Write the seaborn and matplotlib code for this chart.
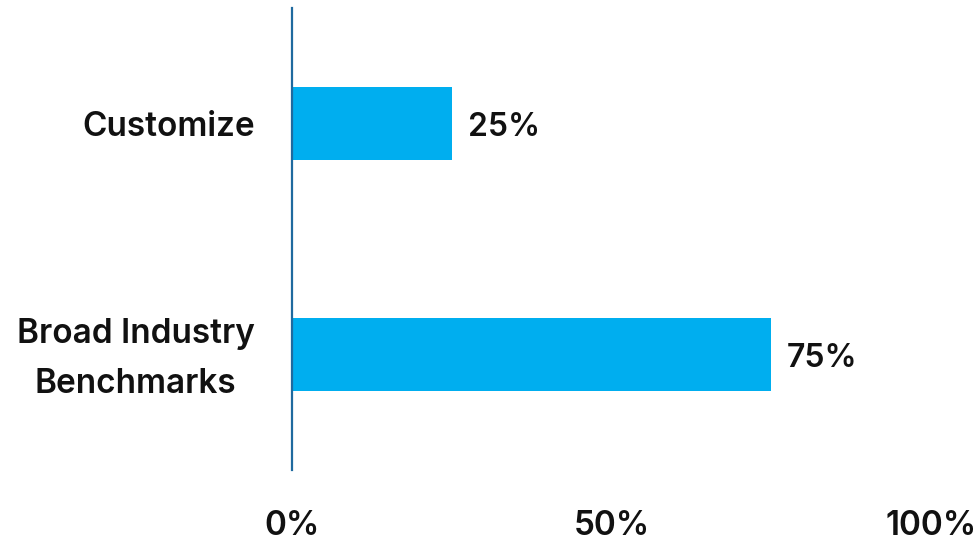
import matplotlib
matplotlib.use("Agg")
import matplotlib.pyplot as plt
import matplotlib.transforms as mtransforms
import seaborn as sns
import pandas as pd

categories = ["Customize", "Broad Industry\nBenchmarks"]
values = [25, 75]
value_labels = ["25%", "75%"]
x_ticks = [0, 50, 100]
x_tick_labels = ["0%", "50%", "100%"]

sns.set_theme(style="white")
plt.rcParams['font.family'] = ['Inter', 'DejaVu Sans']

FS = 24
W = 600
TXT = "#111111"

df = pd.DataFrame({"category": categories, "value": values})

fig = plt.figure(figsize=(9.77, 5.41), dpi=100)
ax = fig.add_axes([292/977, 1-470/541, (931-292)/977, (470-8)/541])

sns.barplot(data=df, x="value", y="category", orient="h", color="#00AEEF",
            saturation=1, width=0.316, linewidth=0, ax=ax)

val_tr = mtransforms.offset_copy(ax.transData, fig=fig, x=0, y=-4, units="dots")
for i, (v, lab) in enumerate(zip(values, value_labels)):
    ax.text(v + 2.5, i, lab, va="center", ha="left", fontsize=23,
            fontweight=W, color=TXT, transform=val_tr)

ax.set_xlim(0, 100)
ax.set_ylim(1.5, -0.5)
ax.set_xticks(x_ticks)
ax.set_xticklabels(x_tick_labels, fontsize=FS, fontweight=W, color=TXT)
ax.set_yticks(range(len(categories)))
ax.set_yticklabels(categories, fontsize=FS, fontweight=W, color=TXT,
                   multialignment="center", linespacing=1.72)
ax.tick_params(axis="x", length=0, pad=29)
ax.tick_params(axis="y", length=0, pad=27)
ax.set_xlabel("")
ax.set_ylabel("")
for s in ["top", "right", "bottom"]:
    ax.spines[s].set_visible(False)
ax.spines["left"].set_color("#1F6A9F")
ax.spines["left"].set_linewidth(1.6)
ax.spines["left"].set_zorder(5)
ax.grid(False)

# lift the two-line label so that its block is centred on the bar
lab2 = ax.get_yticklabels()[1]
lab2.set_transform(lab2.get_transform() +
                   mtransforms.ScaledTranslation(0, 8/100, fig.dpi_scale_trans))

fig.savefig("out.png", dpi=100)
